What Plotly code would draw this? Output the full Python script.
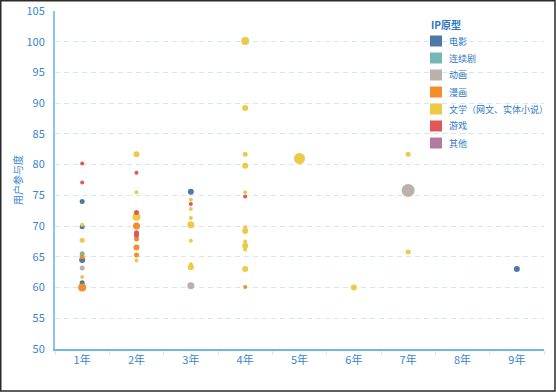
import plotly.graph_objects as go

# ---------------- data ----------------
years = ["1年", "2年", "3年", "4年", "5年", "6年", "7年", "8年", "9年"]
y_ticks = [50, 55, 60, 65, 70, 75, 80, 85, 90, 95, 100, 105]

legend_title = "IP原型"
series_names = ["电影", "连续剧", "动画", "漫画", "文学（网文、实体小说）", "游戏", "其他"]
series_colors = ["#4e79a7", "#76b7b2", "#bab0ac", "#f28e2b", "#edc948", "#e15759", "#b07aa1"]

# 电影
film_x = ["1年", "1年", "1年", "1年", "1年", "3年", "9年"]
film_y = [74.0, 69.9, 64.5, 60.8, 60.4, 75.6, 63.0]
film_w = [5, 5, 6, 5, 5, 6, 6]

# 连续剧
tv_x = ["1年"]
tv_y = [65.5]
tv_w = [5]

# 动画
anim_x = ["1年", "3年", "7年"]
anim_y = [63.2, 60.3, 75.8]
anim_w = [5, 7, 13]

# 漫画
comic_x = ["1年", "1年", "2年", "2年", "2年", "2年", "4年"]
comic_y = [65.0, 60.0, 70.0, 67.9, 66.5, 65.3, 60.1]
comic_w = [5, 8, 7, 5, 6, 5, 4]

# 文学（网文、实体小说）
lit_x = ["1年", "1年", "1年",
         "2年", "2年", "2年", "2年",
         "3年", "3年", "3年", "3年", "3年", "3年", "3年",
         "4年", "4年", "4年", "4年", "4年", "4年", "4年", "4年", "4年", "4年", "4年",
         "5年", "6年", "7年", "7年"]
lit_y = [70.2, 67.7, 61.7,
         81.7, 75.5, 71.5, 64.4,
         74.3, 72.8, 71.3, 70.2, 67.6, 63.8, 63.3,
         100.1, 89.2, 81.7, 79.8, 75.5, 69.8, 69.2, 67.5, 66.8, 66.2, 63.0,
         81.0, 60.0, 81.7, 65.8]
lit_w = [4, 5, 4,
         6, 4, 8, 4,
         4, 4, 4, 7, 4, 4, 6,
         8, 6, 5, 6, 4, 4, 6, 4, 6, 4, 6,
         11, 6, 5, 5]

# 游戏
game_x = ["1年", "1年", "2年", "2年", "2年", "2年", "3年", "4年"]
game_y = [80.2, 77.1, 78.7, 72.2, 68.9, 68.5, 73.6, 74.8]
game_w = [4, 4, 4, 5, 5, 5, 4, 4]

# 其他
other_x = []
other_y = []
other_w = []

series_x = [film_x, tv_x, anim_x, comic_x, lit_x, game_x, other_x]
series_y = [film_y, tv_y, anim_y, comic_y, lit_y, game_y, other_y]
series_w = [film_w, tv_w, anim_w, comic_w, lit_w, game_w, other_w]

# ---------------- figure ----------------
W, H = 556, 392
ML, MR, MT, MB = 55, 12, 11, 43
TICK_COLOR = "#3a86cf"
LEGEND_COLOR = "#2f78c4"
FONT = "Noto Sans CJK SC, Noto Sans, sans-serif"

fig = go.Figure()

for name, color, xs, ys, ws in zip(series_names, series_colors, series_x, series_y, series_w):
    fig.add_trace(go.Scatter(
        x=xs, y=ys, mode="markers", name=name, showlegend=False,
        marker=dict(color=color, size=ws, sizemode="diameter", opacity=1, line=dict(width=0)),
        hovertemplate="%{x}<br>%{y}<extra>" + name + "</extra>",
    ))

pw = W - ML - MR
ph = H - MT - MB

def px_to_paper_x(px):
    return (px - ML) / pw

def px_to_paper_y(py):
    return (H - MB - py) / ph

# outer frame
fig.add_shape(type="rect", xref="paper", yref="paper",
              x0=px_to_paper_x(0.75), x1=px_to_paper_x(555.0),
              y0=px_to_paper_y(391.0), y1=px_to_paper_y(0.75),
              line=dict(color="#2b2b2b", width=1.5), fillcolor="rgba(0,0,0,0)",
              layer="above")

# legend (drawn as swatches + text)
LEG_X, LEG_TITLE_Y, LEG_Y0, LEG_DY, SW = 430, 25, 41, 17, 12
fig.add_annotation(xref="paper", yref="paper", x=px_to_paper_x(LEG_X - 1), y=px_to_paper_y(LEG_TITLE_Y),
                   xanchor="left", yanchor="middle", showarrow=False,
                   text="<b>" + legend_title + "</b>",
                   font=dict(size=10, color="#2b74c2", family=FONT))
for i, (name, color) in enumerate(zip(series_names, series_colors)):
    cy = LEG_Y0 + i * LEG_DY
    fig.add_shape(type="rect", xref="paper", yref="paper",
                  x0=px_to_paper_x(LEG_X), x1=px_to_paper_x(LEG_X + SW),
                  y0=px_to_paper_y(cy + SW / 2 - 0.5), y1=px_to_paper_y(cy - SW / 2 + 0.5),
                  line=dict(width=0), fillcolor=color, layer="above")
    fig.add_annotation(xref="paper", yref="paper", x=px_to_paper_x(LEG_X + SW + 5), y=px_to_paper_y(cy),
                       xanchor="left", yanchor="middle", showarrow=False, text=name,
                       font=dict(size=9, color=LEGEND_COLOR, family=FONT))

fig.update_layout(
    template="none",
    width=W, height=H,
    margin=dict(l=ML, r=MR, t=MT, b=MB, pad=0, autoexpand=False),
    paper_bgcolor="white", plot_bgcolor="white",
    font=dict(family=FONT, size=11, color=TICK_COLOR),
    hovermode="closest",
    showlegend=False,
    xaxis=dict(
        type="category", categoryorder="array", categoryarray=years,
        range=[-0.5, len(years) - 0.5], automargin=False,
        showgrid=False, zeroline=False,
        showline=True, linecolor="#74b5e4", linewidth=1.5,
        ticks="outside", tickson="boundaries", ticklen=4, tickcolor="#d2e5f4", tickwidth=1,
        tickfont=dict(size=11, color=TICK_COLOR, family=FONT),
        fixedrange=True,
    ),
    yaxis=dict(
        range=[50, 105], tickvals=y_ticks, automargin=False,
        showgrid=True, gridcolor="#d5e7f5", gridwidth=1, griddash="5px,4px",
        zeroline=False,
        showline=True, linecolor="#8cc4ec", linewidth=2,
        ticks="", ticklabelstandoff=6,
        tickfont=dict(size=11, color=TICK_COLOR, family=FONT),
        title=dict(text="用户参与度", font=dict(size=10, color=TICK_COLOR, family=FONT), standoff=2),
        fixedrange=True,
    ),
)

fig.write_html("out.html", config={"displayModeBar": False},
               post_script="document.body.style.margin='0';document.body.style.padding='0';")
